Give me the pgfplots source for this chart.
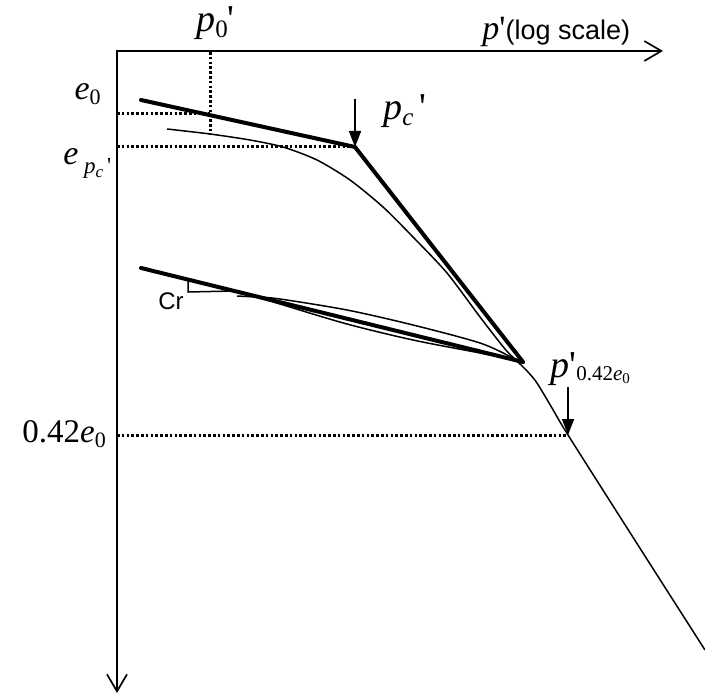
\documentclass[border=0pt]{standalone}
\usepackage{pgfplots}
\pgfplotsset{compat=1.18}
\usetikzlibrary{arrows.meta}
\usepackage{fontspec}
\setmainfont{Liberation Sans}
\newfontfamily\tnr{Liberation Serif}

% font size helper
\newcommand{\fs}[1]{\fontsize{#1}{#1}\selectfont}
\newcommand{\pr}{\textquotesingle}
% lowered index in a given size
\newcommand{\idx}[3]{\raisebox{-#1}{\fs{#2}#3}}

\begin{document}
\begin{tikzpicture}
\begin{axis}[
  name=ax,
  width=352.5pt, height=347.5pt, scale only axis,
  xmin=0, xmax=705, ymin=0, ymax=695,
  y dir=reverse,
  hide axis, clip=false,
]
% axes: e downwards, log p' to the right
\addplot[line width=0.85pt, line join=miter,
  {Straight Barb[length=8.5pt,width=10pt]}-{Straight Barb[length=8.5pt,width=10pt]}]
  coordinates {(117,693) (117,51) (663,51)};

% dotted guide lines
\pgfplotsset{guide/.style={line width=1.5pt, dash pattern=on 1.3pt off 1.1pt}}
\addplot[guide] coordinates {(117,114) (210,114)};
\addplot[guide] coordinates {(210,52) (210,135)};
\addplot[guide] coordinates {(117,147) (355,147)};
\addplot[guide] coordinates {(117,435) (568,435)};

% idealised bilinear lines
\addplot[line width=2pt, line join=round, line cap=round]
  coordinates {(141,100) (355,147) (523,362)};
\addplot[line width=2pt, line cap=round]
  coordinates {(141,268) (523,362)};

% measured compression curve
\addplot[line width=0.75pt, smooth, tension=0.45] coordinates {
  (167,129) (210,134) (250,140) (283,147) (317,160) (350,180) (383,207)
  (413,237) (447,273) (480,317) (505,349) (517,361) (528,372) (537,383)
  (552,408) (568,435) (636,542) (705,650)};

% unloading / reloading loop
\addplot[line width=0.75pt] coordinates {(237,296) (257,297)};
\addplot[line width=0.75pt, smooth, tension=0.5] coordinates {
  (257,297) (280,299) (347,310) (413,325) (480,343) (513,358) (523,363)};
\addplot[line width=0.75pt, smooth, tension=0.5] coordinates {
  (257,297) (280,304) (347,324) (413,340) (480,353) (513,360) (523,363)};

% slope triangle
\addplot[line width=0.75pt] coordinates {(188,280) (188,292) (233,291)};

% marker arrows
\addplot[line width=0.85pt, -{Triangle[length=8pt,width=6pt]}]
  coordinates {(355,99) (355,147)};
\addplot[line width=0.85pt, -{Triangle[length=8pt,width=6pt]}]
  coordinates {(568,387) (568,435)};

% labels
\node[anchor=base west, inner sep=0pt, font=\tnr\itshape]
  at (axis cs:196,32) {\fs{19}p\idx{3pt}{12.5}{\upshape 0}\upshape\pr};
\node[anchor=base west, inner sep=0pt]
  at (axis cs:482,40) {{\tnr\itshape\fs{17}p\upshape\pr}\fs{13.5}(log scale)};
\node[anchor=base east, inner sep=0pt, font=\tnr\itshape]
  at (axis cs:101,100) {\fs{17}e\idx{2.5pt}{11}{\upshape 0}};
\node[anchor=base west, inner sep=0pt, font=\tnr\itshape]
  at (axis cs:63,164) {\fs{17}e\,\idx{4.5pt}{11.5}{p\idx{2pt}{8.5}{c}\upshape\,\pr}};
\node[anchor=base west, inner sep=0pt, font=\tnr\itshape]
  at (axis cs:383,120) {\fs{19}p\idx{3pt}{12.5}{c}\upshape\,\pr};
\node[anchor=base west, inner sep=0pt, font=\tnr]
  at (axis cs:22,442) {\fs{16.5}0.42\textit{e}\idx{2.5pt}{11}{0}};
\node[anchor=base west, inner sep=0pt, font=\tnr]
  at (axis cs:550,377) {\fs{19}\textit{p}\pr\idx{1.5pt}{10.5}{0.42\textit{e}\idx{1.5pt}{7.5}{0}}};
\node[anchor=base west, inner sep=0pt]
  at (axis cs:158,309) {\fs{12}Cr};
\end{axis}
\pgfresetboundingbox
\path (ax.south west) rectangle (ax.north east);
\end{tikzpicture}
\end{document}
